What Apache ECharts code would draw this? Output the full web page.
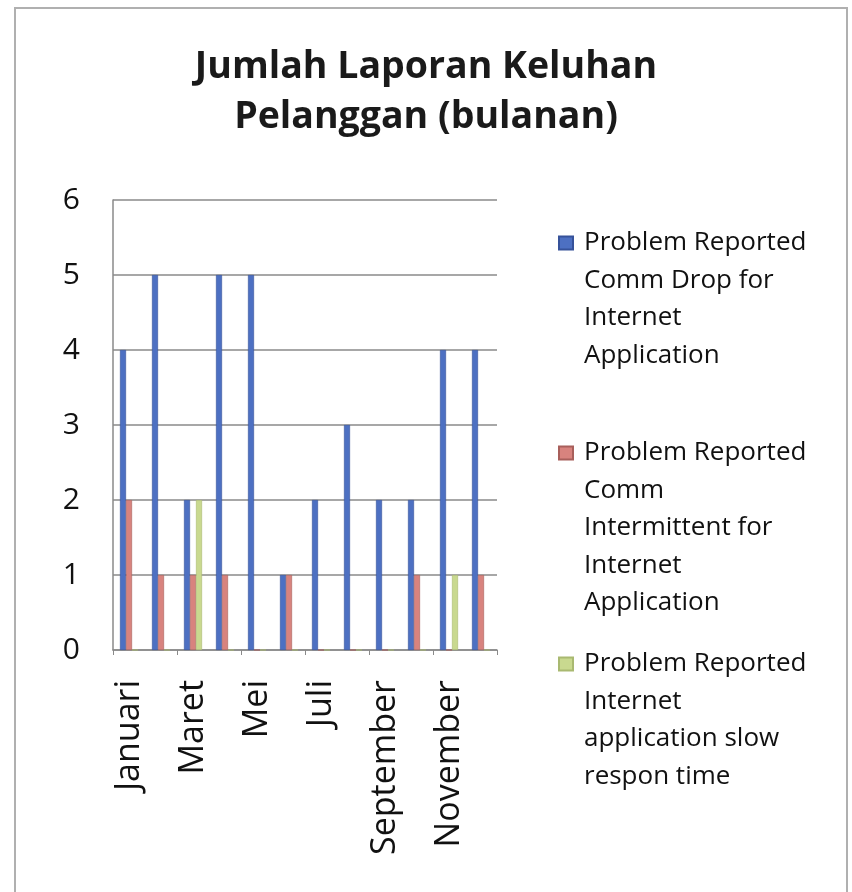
<!DOCTYPE html>
<html>
<head>
<meta charset="utf-8">
<script src="https://cdn.jsdelivr.net/npm/echarts@6/dist/echarts.min.js"></script>
<style>
	html,body{margin:0;padding:0;background:#fff;}
	#chart{width:852px;height:892px;}
</style>
</head>
<body>
<div id="chart"></div>
<script>
var bulan = ['Januari','Februari','Maret','April','Mei','Juni','Juli','Agustus','September','Oktober','November','Desember'];
var commDrop = [4,5,2,5,5,1,2,3,2,2,4,4];
var commIntermittent = [2,1,1,1,0,1,0,0,0,1,0,1];
var slowRespon = [0,0,2,0,0,0,0,0,0,0,1,0];
var yTicks = [0,1,2,3,4,5,6];

var names = [
	'Problem Reported Comm Drop for Internet Application',
	'Problem Reported Comm Intermittent for Internet Application',
	'Problem Reported Internet application slow respon time'
];
// wrapped like the original legend
var legendLines = {};
legendLines[names[0]] = ['Problem Reported','Comm Drop for','Internet','Application'];
legendLines[names[1]] = ['Problem Reported','Comm','Intermittent for','Internet','Application'];
legendLines[names[2]] = ['Problem Reported','Internet','application slow','respon time'];

var font = '"Open Sans", Lato, sans-serif';
var lh = 37.5;

function legendText(name){
	var l = legendLines[name];
	// blank lines above so the marker sits on the first line
	var pad = [];
	for(var i=0;i<l.length-1;i++) pad.push('');
	return pad.concat(l).join('\n');
}
function makeLegend(name, firstLineY){
	var n = legendLines[name].length;
	return {
		data:[name],
		icon:'rect',
		left:553,
		top:firstLineY - (n-1+0.5)*lh - 5,
		itemWidth:14,
		itemHeight:13,
		formatter:legendText,
		textStyle:{fontFamily:font,fontSize:26,lineHeight:lh,color:'#111',padding:[0,0,0,6]}
	};
}

var myChart = echarts.init(document.getElementById('chart'));
myChart.setOption({
	backgroundColor:'#fff',
	title:{
		text:'Jumlah Laporan Keluhan\nPelanggan (bulanan)',
		left:'center',
		top:42,
		padding:[0,0,0,12],
		textStyle:{fontFamily:font,fontSize:37.5,fontWeight:'bold',lineHeight:50,color:'#1a1a1a'}
	},
	graphic:[{
		type:'rect',
		shape:{x:15,y:8,width:832,height:900},
		style:{fill:'none',stroke:'#b0b0b0',lineWidth:2},
		silent:true
	}],
	legend:[
		makeLegend(names[0],243),
		makeLegend(names[1],453),
		makeLegend(names[2],664)
	],
	grid:{left:113,right:355,top:200,bottom:242},
	xAxis:{
		type:'category',
		data:bulan,
		axisLine:{lineStyle:{color:'#8a8a8a',width:1.5}},
		axisTick:{show:true,length:5,lineStyle:{color:'#8a8a8a'}},
		axisLabel:{interval:1,rotate:90,margin:30,fontFamily:font,fontSize:34,color:'#111'}
	},
	yAxis:{
		type:'value',
		min:yTicks[0],
		max:yTicks[yTicks.length-1],
		interval:1,
		axisLine:{show:true,lineStyle:{color:'#8a8a8a',width:1.5}},
		axisTick:{show:false},
		splitLine:{lineStyle:{color:'#8a8a8a',width:1.5}},
		axisLabel:{margin:33,fontFamily:font,fontSize:30,color:'#111'}
	},
	series:[{
		name:names[0],
		type:'bar',
		data:commDrop,
		barWidth:6,
		barGap:'0%',
		itemStyle:{color:'#4d70c2',borderColor:'#36529a',borderWidth:0.6}
	},{
		name:names[1],
		type:'bar',
		data:commIntermittent,
		barWidth:6,
		barGap:'0%',
		itemStyle:{color:'#d8837e',borderColor:'#a85f5b',borderWidth:0.6}
	},{
		name:names[2],
		type:'bar',
		data:slowRespon,
		barWidth:6,
		barGap:'0%',
		itemStyle:{color:'#c9d98f',borderColor:'#a9b971',borderWidth:0.6}
	}]
});
</script>
</body>
</html>
